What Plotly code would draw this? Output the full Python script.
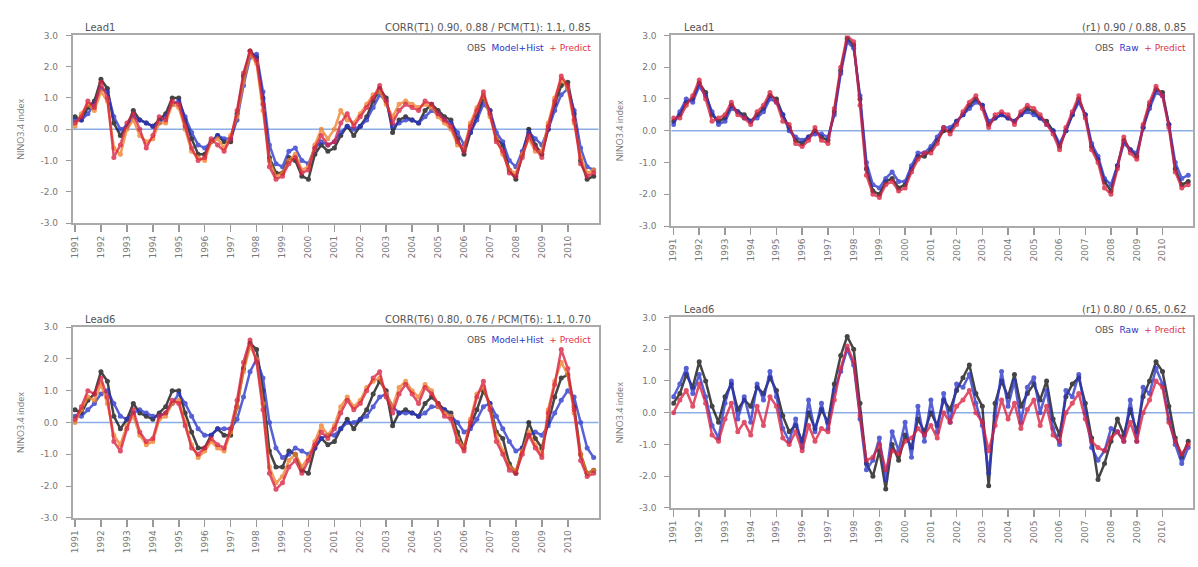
import pandas as pd
import plotly.graph_objects as go

# ---------------- data (quarterly, 1991-01 .. 2011-01) ----------------
dates = pd.date_range("1991-01-01", "2011-01-01", freq="3MS")

obs_left = [0.4, 0.3, 0.7, 0.9,
            1.6, 1.3, 0.2, -0.2,
            0.1, 0.6, 0.3, 0.2,
            0.1, 0.3, 0.5, 1.0,
            1.0, 0.3, -0.3, -0.8,
            -0.8, -0.4, -0.2, -0.4,
            -0.4, 0.5, 1.7, 2.5,
            2.3, 1.0, -0.9, -1.4,
            -1.4, -0.9, -1.0, -1.5,
            -1.6, -0.8, -0.5, -0.7,
            -0.6, -0.2, 0.1, -0.2,
            0.1, 0.4, 0.9, 1.3,
            1.0, -0.1, 0.3, 0.4,
            0.3, 0.2, 0.6, 0.8,
            0.6, 0.4, 0.3, -0.3,
            -0.8, -0.1, 0.4, 1.0,
            0.6, -0.3, -0.5, -1.3,
            -1.6, -0.8, 0.0, -0.5,
            -0.8, 0.0, 0.8, 1.4,
            1.5, 0.5, -1.0, -1.6,
            -1.5]

model_tl = [0.3, 0.3, 0.5, 0.8,
            1.3, 1.2, 0.4, 0.0,
            0.1, 0.4, 0.3, 0.2,
            0.1, 0.2, 0.4, 0.8,
            0.9, 0.4, -0.1, -0.5,
            -0.6, -0.4, -0.2, -0.3,
            -0.3, 0.3, 1.4, 2.3,
            2.4, 1.2, -0.5, -1.1,
            -1.2, -0.7, -0.6, -1.0,
            -1.1, -0.6, -0.4, -0.5,
            -0.4, -0.1, 0.1, 0.0,
            0.1, 0.3, 0.7, 1.1,
            0.9, 0.1, 0.2, 0.3,
            0.3, 0.2, 0.4, 0.6,
            0.5, 0.3, 0.2, -0.1,
            -0.5, -0.1, 0.3, 0.8,
            0.6, -0.1, -0.4, -1.0,
            -1.2, -0.7, -0.1, -0.3,
            -0.5, 0.0, 0.6, 1.1,
            1.3, 0.6, -0.6, -1.2,
            -1.3]

pred_tl = [0.2, 0.4, 0.9, 0.7,
           1.5, 1.0, -0.9, -0.5,
           0.2, 0.5, 0.0, -0.6,
           -0.2, 0.4, 0.3, 0.9,
           0.8, 0.1, -0.6, -1.0,
           -0.9, -0.3, -0.5, -0.7,
           -0.3, 0.6, 1.8, 2.5,
           2.2, 0.8, -1.2, -1.6,
           -1.5, -1.1, -0.9, -1.4,
           -1.3, -0.6, -0.2, -0.5,
           -0.4, 0.2, 0.5, 0.1,
           0.4, 0.7, 1.0, 1.4,
           0.9, 0.2, 0.6, 0.8,
           0.7, 0.6, 0.9, 0.8,
           0.5, 0.3, 0.1, -0.4,
           -0.7, 0.1, 0.6, 1.2,
           0.5, -0.4, -0.7, -1.4,
           -1.5, -0.9, -0.2, -0.6,
           -0.9, 0.1, 0.9, 1.7,
           1.4, 0.3, -1.1, -1.5,
           -1.4]

ens_tl = [0.1, 0.5, 0.8, 0.6,
          1.2, 0.9, -0.6, -0.8,
          0.0, 0.3, -0.2, -0.4,
          -0.3, 0.2, 0.2, 0.8,
          0.7, 0.0, -0.7, -0.9,
          -1.0, -0.4, -0.3, -0.6,
          -0.2, 0.4, 1.5, 2.4,
          2.1, 0.6, -1.0, -1.5,
          -1.4, -1.0, -0.8, -1.3,
          -1.2, -0.5, 0.0, -0.3,
          0.0, 0.6, 0.3, 0.2,
          0.5, 0.8, 1.1, 1.2,
          0.8, 0.4, 0.8, 0.9,
          0.8, 0.7, 0.8, 0.7,
          0.4, 0.2, 0.0, -0.5,
          -0.6, 0.2, 0.7, 1.1,
          0.4, -0.3, -0.8, -1.3,
          -1.4, -0.8, -0.3, -0.7,
          -0.7, 0.2, 1.0, 1.6,
          1.3, 0.2, -0.9, -1.4,
          -1.3]

model_bl = [0.2, 0.2, 0.4, 0.6,
            0.9, 1.0, 0.6, 0.2,
            0.1, 0.3, 0.4, 0.3,
            0.2, 0.2, 0.3, 0.6,
            0.9, 0.6, 0.2, -0.2,
            -0.4, -0.4, -0.2, -0.2,
            -0.2, 0.1, 0.8, 1.6,
            2.0, 1.4, 0.0, -0.8,
            -1.1, -1.0, -0.8, -0.9,
            -1.0, -0.8, -0.5, -0.4,
            -0.4, -0.2, 0.0, 0.0,
            0.1, 0.2, 0.5, 0.8,
            0.9, 0.5, 0.3, 0.3,
            0.3, 0.2, 0.3, 0.5,
            0.5, 0.4, 0.2, 0.0,
            -0.3, -0.2, 0.1, 0.5,
            0.6, 0.2, -0.2, -0.6,
            -0.9, -0.8, -0.4, -0.3,
            -0.4, -0.1, 0.3, 0.7,
            1.0, 0.8, 0.0, -0.8,
            -1.1]

pred_bl = [0.1, 0.5, 1.0, 0.9,
           1.4, 0.8, -0.6, -0.9,
           -0.2, 0.4, -0.3, -0.6,
           -0.5, 0.2, 0.3, 0.7,
           0.6, -0.1, -0.8, -1.0,
           -0.8, -0.5, -0.7, -0.8,
           -0.2, 0.7, 1.9, 2.6,
           1.9, 0.4, -1.6, -2.1,
           -1.9, -1.4, -1.2, -1.6,
           -1.2, -0.7, -0.3, -0.5,
           -0.2, 0.3, 0.7, 0.4,
           0.6, 1.0, 1.4, 1.6,
           0.8, 0.3, 0.9, 1.2,
           0.9, 0.6, 1.1, 0.9,
           0.6, 0.2, 0.1, -0.6,
           -0.9, 0.0, 0.8, 1.3,
           0.4, -0.6, -1.0, -1.5,
           -1.6, -1.0, -0.4, -0.8,
           -1.1, 0.3, 1.2, 2.3,
           1.7, 0.4, -1.2, -1.7,
           -1.6]

ens_bl = [0.0, 0.4, 0.8, 0.7,
          1.2, 0.6, -0.4, -0.7,
          -0.1, 0.2, -0.4, -0.7,
          -0.6, 0.1, 0.2, 0.6,
          0.7, 0.0, -0.7, -1.1,
          -0.9, -0.6, -0.8, -0.9,
          -0.3, 0.5, 1.6, 2.4,
          2.0, 0.6, -1.4, -1.9,
          -1.7, -1.2, -1.0, -1.4,
          -1.1, -0.6, -0.1, -0.4,
          -0.1, 0.5, 0.8, 0.5,
          0.7, 1.1, 1.3, 1.4,
          0.9, 0.5, 1.1, 1.3,
          1.0, 0.8, 1.2, 1.0,
          0.5, 0.3, 0.2, -0.5,
          -0.8, 0.1, 0.9, 1.1,
          0.5, -0.4, -0.9, -1.4,
          -1.5, -0.9, -0.3, -0.7,
          -1.0, 0.4, 1.3, 1.9,
          1.5, 0.3, -1.0, -1.6,
          -1.5]

obs_tr = [0.3, 0.5, 0.9, 1.0,
          1.5, 1.2, 0.5, 0.3,
          0.4, 0.8, 0.6, 0.5,
          0.3, 0.5, 0.7, 1.1,
          1.0, 0.5, 0.1, -0.3,
          -0.4, -0.2, 0.0, -0.2,
          -0.3, 0.6, 1.9, 2.9,
          2.7, 1.0, -1.2, -1.9,
          -2.0, -1.6, -1.5, -1.8,
          -1.7, -1.2, -0.8, -0.8,
          -0.6, -0.3, 0.0, 0.0,
          0.3, 0.5, 0.8, 1.0,
          0.8, 0.2, 0.4, 0.5,
          0.4, 0.3, 0.5, 0.7,
          0.6, 0.4, 0.3, 0.0,
          -0.5, 0.0, 0.5, 1.0,
          0.5, -0.5, -0.9, -1.6,
          -1.9, -1.1, -0.3, -0.6,
          -0.8, 0.1, 0.8, 1.3,
          1.2, 0.2, -1.2, -1.7,
          -1.6]

raw_tr = [0.2, 0.6, 1.0, 0.9,
          1.4, 1.1, 0.6, 0.2,
          0.3, 0.7, 0.6, 0.4,
          0.3, 0.4, 0.6, 1.0,
          0.9, 0.5, 0.0, -0.2,
          -0.3, -0.2, -0.1, -0.1,
          -0.2, 0.5, 1.8, 2.8,
          2.6, 1.1, -1.0, -1.7,
          -1.8, -1.5, -1.3, -1.6,
          -1.6, -1.1, -0.7, -0.7,
          -0.5, -0.2, 0.1, 0.1,
          0.3, 0.5, 0.7, 0.9,
          0.8, 0.3, 0.4, 0.5,
          0.4, 0.3, 0.5, 0.6,
          0.5, 0.4, 0.2, 0.0,
          -0.4, 0.0, 0.5, 0.9,
          0.5, -0.4, -0.8, -1.5,
          -1.7, -1.1, -0.4, -0.6,
          -0.7, 0.1, 0.7, 1.2,
          1.1, 0.2, -1.0, -1.5,
          -1.4]

pred_tr = [0.4, 0.4, 0.8, 1.1,
           1.6, 1.0, 0.3, 0.4,
           0.5, 0.9, 0.5, 0.4,
           0.2, 0.6, 0.8, 1.2,
           0.9, 0.3, 0.2, -0.4,
           -0.5, -0.3, 0.1, -0.3,
           -0.4, 0.7, 2.0, 3.0,
           2.8, 0.8, -1.4, -2.0,
           -2.1, -1.7, -1.6, -1.9,
           -1.8, -1.3, -0.9, -0.7,
           -0.7, -0.4, 0.1, -0.1,
           0.2, 0.6, 0.9, 1.1,
           0.7, 0.1, 0.5, 0.6,
           0.5, 0.2, 0.6, 0.8,
           0.7, 0.5, 0.2, -0.1,
           -0.6, 0.1, 0.6, 1.1,
           0.4, -0.6, -1.0, -1.8,
           -2.0, -1.2, -0.2, -0.7,
           -0.9, 0.2, 0.9, 1.4,
           1.1, 0.1, -1.3, -1.8,
           -1.7]

obs_br = [0.3, 0.6, 1.2, 0.8,
          1.6, 1.0, 0.2, -0.3,
          0.5, 0.9, 0.1, 0.4,
          0.2, 0.8, 0.6, 1.1,
          0.7, -0.1, -0.6, -0.4,
          -0.9, 0.0, -0.5, 0.1,
          -0.3, 0.9, 1.8, 2.4,
          2.0, 0.3, -1.6, -2.0,
          -1.2, -2.4, -1.0, -1.5,
          -0.7, -1.1, -0.2, -0.6,
          0.0, -0.4, 0.4, 0.1,
          0.7, 1.1, 1.5, 0.6,
          0.2, -2.3, 0.3, 1.0,
          0.5, 1.2, 0.2, 0.6,
          0.9, 0.4, 1.0, -0.2,
          -0.7, 0.5, 0.9, 1.1,
          0.3, -0.8, -2.1, -1.6,
          -0.9, -0.2, -0.7, 0.1,
          -0.6, 0.5, 1.0, 1.6,
          1.3, 0.2, -0.8, -1.4,
          -0.9]

raw_br = [0.5, 0.9, 1.4, 0.6,
          1.2, 0.5, -0.4, -0.8,
          0.3, 1.0, -0.2, 0.5,
          -0.3, 0.9, 0.4, 1.3,
          0.5, -0.5, -0.9, -0.2,
          -1.1, 0.4, -0.6, 0.3,
          -0.5, 0.7, 1.3, 2.0,
          1.5, -0.2, -1.8, -1.5,
          -0.8, -2.1, -0.6, -1.2,
          -0.3, -1.4, 0.2, -0.9,
          0.4, -0.6, 0.6, -0.3,
          0.9, 0.8, 1.2, 0.3,
          -0.4, -1.9, -0.1, 1.3,
          0.2, 1.0, -0.3, 0.8,
          1.1, 0.0, 0.7, -0.5,
          -1.0, 0.7, 0.5, 1.2,
          0.0, -1.1, -1.5, -1.2,
          -0.5, -0.6, -0.9, 0.4,
          -0.9, 0.8, 0.6, 1.4,
          0.9, -0.2, -1.0, -1.6,
          -1.1]

pred_br = [0.0, 0.4, 0.7, 0.2,
           0.9, 0.3, -0.7, -0.9,
           -0.2, 0.3, -0.6, -0.3,
           -0.7, 0.2, -0.4, 0.5,
           0.2, -0.8, -1.0, -0.6,
           -1.2, -0.4, -0.9, -0.5,
           -0.6, 0.4, 1.4, 2.1,
           1.6, -0.1, -1.5, -1.4,
           -1.0, -1.8, -1.2, -1.3,
           -0.9, -0.8, -0.5, -0.7,
           -0.4, -0.8, 0.0, -0.3,
           0.2, 0.4, 0.7, 0.0,
           -0.3, -1.2, -0.4, 0.4,
           -0.2, 0.3, -0.5, 0.1,
           0.4, -0.4, 0.2, -0.7,
           -0.9, 0.0, 0.3, 0.6,
           -0.2, -0.9, -1.1, -1.2,
           -0.8, -0.6, -0.9, -0.3,
           -0.9, 0.0, 0.4, 1.0,
           0.8, -0.3, -0.9, -1.3,
           -1.0]

y_ticks = [-3, -2, -1, 0, 1, 2, 3]
y_tick_labels = ["-3.0", "-2.0", "-1.0", "0.0", "1.0", "2.0", "3.0"]
x_tick_years = [str(y) for y in range(1991, 2011)]

W, H = 1198, 567
panels = [
    dict(lead="Lead1", title="CORR(T1) 0.90, 0.88 / PCM(T1): 1.1, 0.85",
         legend=[("OBS", "#555555"), ("Model+Hist", "#2a35c8"), ("+ Predict", "#e0304a")],
         series=[(obs_left, "#111111"), (model_tl, "#2a35c8"), (ens_tl, "#f07f2a"), (pred_tl, "#d8203f")],
         px_x=(70, 597), px_y=(31, 222)),
    dict(lead="Lead1", title="(r1) 0.90 / 0.88, 0.85",
         legend=[("OBS", "#555555"), ("Raw", "#2a35c8"), ("+ Predict", "#e0304a")],
         series=[(obs_tr, "#111111"), (raw_tr, "#2a35c8"), (pred_tr, "#d8203f")],
         px_x=(670, 1193), px_y=(31, 225)),
    dict(lead="Lead6", title="CORR(T6) 0.80, 0.76 / PCM(T6): 1.1, 0.70",
         legend=[("OBS", "#555555"), ("Model+Hist", "#2a35c8"), ("+ Predict", "#e0304a")],
         series=[(obs_left, "#111111"), (model_bl, "#2a35c8"), (ens_bl, "#f07f2a"), (pred_bl, "#d8203f")],
         px_x=(70, 597), px_y=(328, 522)),
    dict(lead="Lead6", title="(r1) 0.80 / 0.65, 0.62",
         legend=[("OBS", "#555555"), ("Raw", "#2a35c8"), ("+ Predict", "#e0304a")],
         series=[(obs_br, "#111111"), (raw_br, "#2a35c8"), (pred_br, "#d8203f")],
         px_x=(670, 1193), px_y=(318, 512)),
]

fig = go.Figure()
annotations = []
shapes = []
for i, p in enumerate(panels):
    n = "" if i == 0 else str(i + 1)
    xa, ya = "x" + n, "y" + n
    dom_x = [p["px_x"][0] / W, p["px_x"][1] / W]
    dom_y = [1 - p["px_y"][1] / H, 1 - p["px_y"][0] / H]
    for vals, col in p["series"]:
        fig.add_trace(go.Scatter(
            x=dates, y=vals, xaxis=xa, yaxis=ya, mode="lines+markers",
            line=dict(color=col, width=2.5), marker=dict(size=5, color=col),
            opacity=0.78, showlegend=False, hoverinfo="skip"))
    fig.layout["xaxis" + n] = dict(
        domain=dom_x, anchor=ya, type="date",
        range=["1990-12-01", "2011-03-10"],
        tickvals=[pd.Timestamp(y + "-01-01") for y in x_tick_years],
        ticktext=x_tick_years, tickangle=-90,
        ticks="outside", ticklen=7, tickcolor="#999", tickwidth=1.5,
        tickfont=dict(size=9, color="#777", family="DejaVu Sans"),
        showline=True, linecolor="#aaa", linewidth=2, mirror=True,
        showgrid=False, zeroline=False)
    fig.layout["yaxis" + n] = dict(
        domain=dom_y, anchor=xa, range=[-3, 3],
        tickvals=y_ticks, ticktext=y_tick_labels,
        ticks="outside", ticklen=5, tickcolor="#999", ticklabelstandoff=6,
        tickfont=dict(size=9, color="#777", family="DejaVu Sans"),
        showline=True, linecolor="#aaa", linewidth=2, mirror=True,
        showgrid=False, zeroline=False,
        title=dict(text="NINO3.4 index", font=dict(size=9, color="#777"), standoff=14))
    shapes.append(dict(type="line", xref=xa + " domain", yref=ya, x0=0, x1=1, y0=0, y1=0,
                       line=dict(color="rgba(90,140,220,0.7)", width=1.5), layer="below"))
    annotations.append(dict(xref=xa + " domain", yref=ya + " domain", x=0.02, y=1.0,
                            xanchor="left", yanchor="bottom", showarrow=False,
                            text=p["lead"], font=dict(size=10, color="#555", family="DejaVu Sans")))
    annotations.append(dict(xref=xa + " domain", yref=ya + " domain", x=0.99, y=1.0,
                            xanchor="right", yanchor="bottom", showarrow=False,
                            text=p["title"], font=dict(size=10, color="#555", family="DejaVu Sans")))
    leg = "  ".join(f"<span style='color:{c}'>{t}</span>" for t, c in p["legend"])
    annotations.append(dict(xref=xa + " domain", yref=ya + " domain", x=0.99, y=0.97,
                            xanchor="right", yanchor="top", showarrow=False,
                            text=leg, font=dict(size=9, family="DejaVu Sans")))

fig.update_layout(width=W, height=H, margin=dict(l=0, r=0, t=0, b=0),
                  paper_bgcolor="white", plot_bgcolor="white",
                  annotations=annotations, shapes=shapes, showlegend=False)
fig.write_html("out.html", config={"displayModeBar": False, "staticPlot": True})

# remove the default page margin so the figure fills the window exactly
with open("out.html", encoding="utf-8") as f:
    html = f.read()
html = html.replace("<head>", "<head><style>html,body{margin:0;padding:0;overflow:hidden;}</style>", 1)
with open("out.html", "w", encoding="utf-8") as f:
    f.write(html)
